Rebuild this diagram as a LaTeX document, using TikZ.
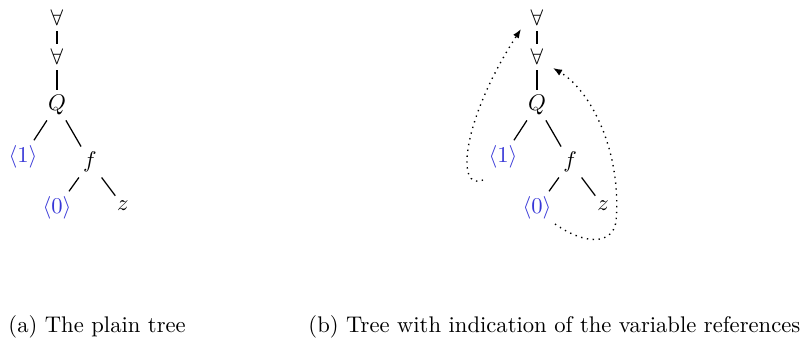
\documentclass[tikz,border=0pt]{standalone}
\usepackage{tikz}
\usetikzlibrary{arrows.meta}
\definecolor{varblue}{RGB}{55,55,215}
\begin{document}
\begin{tikzpicture}[x=0.442pt,y=-0.442pt,
  tn/.style={inner sep=2.2pt},
  vn/.style={inner sep=2.2pt,text=varblue},
  edge/.style={line width=0.55pt},
  ref/.style={dotted,line width=0.6pt,-{Latex[length=4pt,width=3pt]}}]
\useasboundingbox (0,0) rectangle (802,345);
% left tree
\node[tn] (la) at (57,18) {$\forall$};
\node[tn] (lb) at (57,57) {$\forall$};
\node[tn] (lq) at (57,105) {$Q$};
\node[vn] (l1) at (23,157) {$\langle 1\rangle$};
\node[tn] (lf) at (90,162) {$f$};
\node[vn] (l0) at (57,208) {$\langle 0\rangle$};
\node[tn] (lz) at (123,206) {$z$};
\draw[edge] (la) -- (lb);
\draw[edge] (lb) -- (lq);
\draw[edge] (lq) -- (l1);
\draw[edge] (lq) -- (lf);
\draw[edge] (lf) -- (l0);
\draw[edge] (lf) -- (lz);
% right tree
\node[tn] (ra) at (537,18) {$\forall$};
\node[tn] (rb) at (537,57) {$\forall$};
\node[tn] (rq) at (537,105) {$Q$};
\node[vn] (r1) at (503,157) {$\langle 1\rangle$};
\node[tn] (rf) at (570,162) {$f$};
\node[vn] (r0) at (537,208) {$\langle 0\rangle$};
\node[tn] (rz) at (603,206) {$z$};
\draw[edge] (ra) -- (rb);
\draw[edge] (rb) -- (rq);
\draw[edge] (rq) -- (r1);
\draw[edge] (rq) -- (rf);
\draw[edge] (rf) -- (r0);
\draw[edge] (rf) -- (rz);
\coordinate (t1) at (521,29);
\coordinate (t0) at (553,68);
\draw[ref] (483,180) .. controls (455,192) and (462,120) .. (t1);
\draw[ref] (555,224) .. controls (585,245) and (612,245) .. (616,222)
   .. controls (622,150) and (590,90) .. (t0);
% captions
\node[anchor=base west,inner sep=0pt] (ca) at (8,332) {(a) The plain tree};
\node[anchor=base west,inner sep=0pt] (cb) at (308,332) {(b) Tree with indication of the variable references};
\end{tikzpicture}
\end{document}
